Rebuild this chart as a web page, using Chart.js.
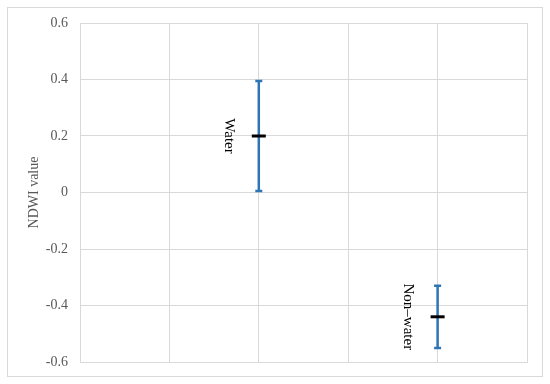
<!DOCTYPE html>
<html>
<head>
<meta charset="utf-8">
<script src="https://cdn.jsdelivr.net/npm/chart.js@4/dist/chart.umd.min.js"></script>
<style>
  html, body { margin: 0; padding: 0; background: #fff; }
  #wrap { width: 550px; height: 384px; }
</style>
</head>
<body>
<div id="wrap"><canvas id="ndwiChart" width="550" height="384"></canvas></div>
<script>
// classes and their place on the x axis
const classes = ['Water', 'Non–water'];
const classX = [2, 4];
// NDWI mean and range per class
const meanValues = [0.20, -0.44];
const highValues = [0.395, -0.33];
const lowValues = [0.005, -0.55];
const yTicks = [-0.6, -0.4, -0.2, 0, 0.2, 0.4, 0.6];

const serif = '"Liberation Serif", "DejaVu Serif", serif';
const textGrey = '#595959';
const gridGrey = '#d9d9d9';
const barBlue = '#2e75b6';

const points = classX.map((x, i) => ({ x: x, y: meanValues[i] }));

// outer frame round the whole chart
const framePlugin = {
  id: 'frame',
  beforeDraw(chart) {
    const ctx = chart.ctx;
    ctx.save();
    ctx.fillStyle = '#fff';
    ctx.fillRect(0, 0, chart.width, chart.height);
    ctx.strokeStyle = gridGrey;
    ctx.lineWidth = 1;
    ctx.strokeRect(7.5, 7.5, chart.width - 15, chart.height - 15);
    ctx.restore();
  }
};

// blue min-max bars with caps, drawn under the mean markers
const errorBarPlugin = {
  id: 'errorBars',
  beforeDatasetsDraw(chart) {
    const ctx = chart.ctx;
    const xs = chart.scales.x, ys = chart.scales.y;
    ctx.save();
    ctx.strokeStyle = barBlue;
    ctx.lineWidth = 2.5;
    classX.forEach((x, i) => {
      const px = xs.getPixelForValue(x);
      const top = ys.getPixelForValue(highValues[i]);
      const bot = ys.getPixelForValue(lowValues[i]);
      ctx.beginPath();
      ctx.moveTo(px, top);
      ctx.lineTo(px, bot);
      ctx.moveTo(px - 3.5, top);
      ctx.lineTo(px + 3.5, top);
      ctx.moveTo(px - 3.5, bot);
      ctx.lineTo(px + 3.5, bot);
      ctx.stroke();
    });
    ctx.restore();
  }
};

// rotated class names beside each bar
const classLabelPlugin = {
  id: 'classLabels',
  afterDatasetsDraw(chart) {
    const ctx = chart.ctx;
    const xs = chart.scales.x, ys = chart.scales.y;
    ctx.save();
    ctx.fillStyle = '#000';
    ctx.font = '15px ' + serif;
    ctx.textAlign = 'center';
    ctx.textBaseline = 'middle';
    classX.forEach((x, i) => {
      const px = xs.getPixelForValue(x) - 30;
      const py = ys.getPixelForValue(meanValues[i]);
      ctx.save();
      ctx.translate(px, py);
      ctx.rotate(Math.PI / 2);
      ctx.fillText(classes[i], 0, 0);
      ctx.restore();
    });
    ctx.restore();
  }
};

new Chart(document.getElementById('ndwiChart'), {
  type: 'scatter',
  data: {
    datasets: [{
      data: points,
      pointStyle: 'line',
      pointRadius: 7,
      pointHoverRadius: 7,
      borderColor: '#000',
      backgroundColor: '#000',
      borderWidth: 3,
      pointBorderWidth: 3
    }]
  },
  options: {
    responsive: false,
    animation: false,
    events: [],
    layout: { padding: { left: 22, top: 23, right: 23, bottom: 22 } },
    plugins: {
      legend: { display: false },
      tooltip: { enabled: false }
    },
    scales: {
      x: {
        type: 'linear',
        min: 0,
        max: 5,
        ticks: { display: false, stepSize: 1 },
        grid: { color: gridGrey, drawTicks: false },
        border: { color: gridGrey },
        afterFit(scale) { scale.height = 0; }
      },
      y: {
        min: -0.6,
        max: 0.6,
        afterBuildTicks(scale) { scale.ticks = yTicks.map(v => ({ value: v })); },
        ticks: {
          color: textGrey,
          padding: 12,
          font: { family: serif, size: 14 },
          callback: v => (Math.round(v * 10) / 10).toString()
        },
        grid: { color: gridGrey, drawTicks: false },
        border: { color: gridGrey },
        title: {
          display: true,
          text: 'NDWI value',
          color: textGrey,
          font: { family: serif, size: 14 },
          padding: { top: 4, bottom: 4 }
        },
        afterFit(scale) { scale.width = 58; }
      }
    }
  },
  plugins: [framePlugin, errorBarPlugin, classLabelPlugin]
});
</script>
</body>
</html>
